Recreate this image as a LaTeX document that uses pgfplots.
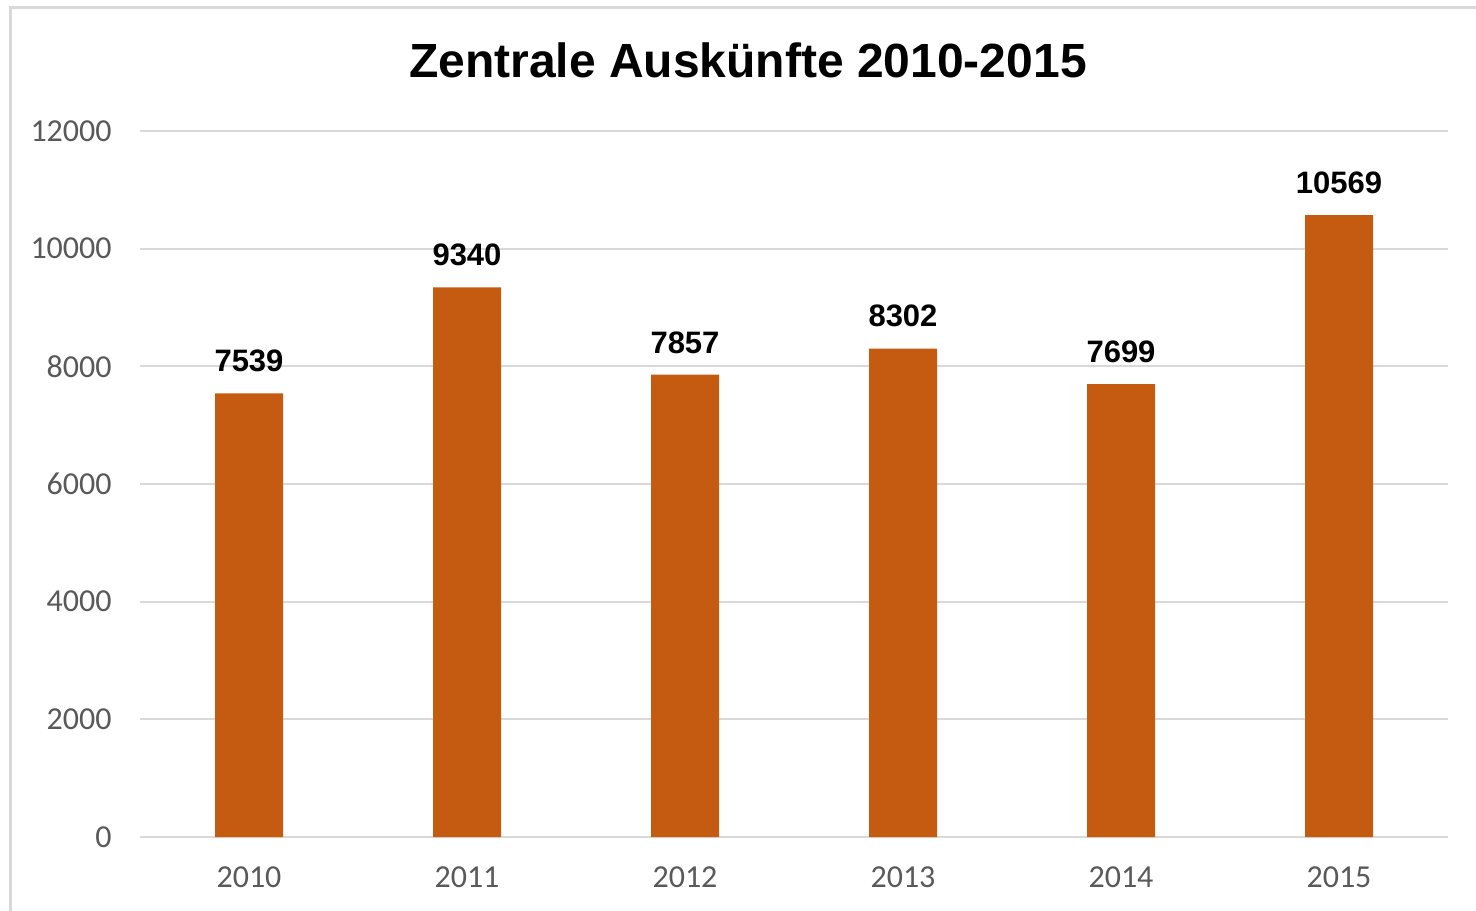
\documentclass[border=0pt]{standalone}
\usepackage{fontspec}
\setmainfont{Carlito}
\newfontfamily\arialfont{Liberation Sans}
\usepackage{pgfplots}
\pgfplotsset{compat=1.18}
\definecolor{barc}{HTML}{C55A11}
\definecolor{gridc}{HTML}{D9D9D9}
\definecolor{tickc}{HTML}{595959}
\begin{document}
\begin{tikzpicture}
\path[use as bounding box] (0,0) rectangle (738bp,455.5bp);
\fill[white] (0,0) rectangle (738bp,455.5bp);
\draw[gridc, line width=1.5bp] (5bp,-3bp) -- (5bp,451.5bp) -- (745bp,451.5bp);
\node[anchor=base, inner sep=0, font=\arialfont\bfseries\fontsize{24bp}{29bp}\selectfont] at (374bp,416.5bp) {Zentrale Auskünfte 2010-2015};
\begin{axis}[
  at={(70bp,37bp)}, anchor=south west,
  scale only axis, width=654bp, height=353bp,
  xmin=-0.5, xmax=5.5, ymin=0, ymax=12000,
  axis lines=none,
  ymajorgrids, grid style={gridc, line width=1bp},
  ytick={0,2000,4000,6000,8000,10000,12000},
  scaled y ticks=false,
  xtick={0,1,2,3,4,5},
  xticklabels={2010,2011,2012,2013,2014,2015},
  major tick length=0pt,
  /pgf/number format/assume math mode=true,
  /pgf/number format/1000 sep={},
  yticklabel={\pgfmathprintnumber[fixed,precision=0,1000 sep={}]{\tick}},
  tick label style={font=\fontsize{16bp}{19bp}\selectfont, text=tickc, inner sep=0pt},
  xticklabel style={anchor=north, yshift=-14.5bp},
  yticklabel style={anchor=east, xshift=-14bp},
  hide x axis=false, hide y axis=false,
  axis line style={draw=none},
  nodes near coords,
  nodes near coords style={anchor=south, inner sep=0pt, yshift=10.5bp, font=\arialfont\bfseries\fontsize{15.5bp}{18bp}\selectfont, text=black},
  clip=false,
]
\addplot[ybar, bar width=34bp, fill=barc, draw=none] coordinates {
(0,7539) (1,9340) (2,7857) (3,8302) (4,7699) (5,10569)
};
\end{axis}
\end{tikzpicture}
\end{document}
